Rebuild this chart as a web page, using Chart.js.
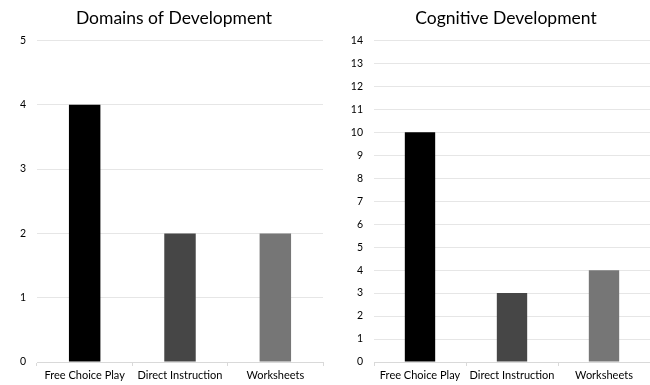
<!DOCTYPE html>
<html>
<head>
<meta charset="utf-8">
<script src="https://cdn.jsdelivr.net/npm/chart.js@4/dist/chart.umd.min.js"></script>
<style>
  html, body { margin: 0; padding: 0; background: #fff; overflow: hidden; }
  #wrap { position: relative; width: 650px; height: 385px; overflow: hidden; }
  canvas { position: absolute; top: 0; }
  #left { left: 0; }
  #right { left: 330px; }
</style>
</head>
<body>
<div id="wrap">
  <canvas id="left" width="348" height="385"></canvas>
  <canvas id="right" width="352" height="385"></canvas>
</div>
<script>
// Categories shared by both panels
const categories = ["Free Choice Play", "Direct Instruction", "Worksheets"];

// Panel 1: Domains of Development
const domainsTitle = "Domains of Development";
const domainsValues = [4, 2, 2];
const domainsMax = 5;

// Panel 2: Cognitive Development
const cognitiveTitle = "Cognitive Development";
const cognitiveValues = [10, 3, 4];
const cognitiveMax = 14;

const barColors = ["#000000", "#464646", "#767676"];

Chart.defaults.font.family = "Lato, 'Open Sans', sans-serif";
Chart.defaults.color = "#000";

// Nudges the title horizontally so it sits over the whole panel (axis labels included)
const titleNudge = {
  id: "titleNudge",
  afterLayout(chart, args, opts) {
    const t = chart.titleBlock;
    if (t && opts.dx) { t.left += opts.dx; t.right += opts.dx; }
  }
};

function makeChart(id, title, values, yMax, axisWidth, rightPad) {
  return new Chart(document.getElementById(id), {
    type: "bar",
    data: {
      labels: categories,
      datasets: [{
        data: values,
        backgroundColor: barColors,
        borderWidth: 0,
        categoryPercentage: 1,
        barPercentage: 0.33
      }]
    },
    plugins: [titleNudge],
    options: {
      responsive: false,
      animation: false,
      layout: { padding: { left: 0, right: rightPad, top: 0, bottom: 0 } },
      plugins: {
        legend: { display: false },
        tooltip: { enabled: false },
        titleNudge: { dx: -6 },
        title: {
          display: true,
          fullSize: false,
          text: title,
          color: "#000",
          font: { size: 17.5, weight: "normal" },
          padding: { top: 8, bottom: 11.5 }
        }
      },
      scales: {
        x: {
          offset: true,
          grid: {
            offset: true,
            drawOnChartArea: false,
            drawTicks: true,
            tickLength: 4,
            color: "#d9d9d9"
          },
          border: { color: "#d9d9d9" },
          ticks: { font: { size: 11 }, color: "#000", padding: 3, maxRotation: 0 },
          afterFit: (s) => { s.height = 23; }
        },
        y: {
          min: 0,
          max: yMax,
          grid: { color: "#e6e6e6", drawTicks: false },
          border: { display: false },
          ticks: { stepSize: 1, font: { size: 10.5 }, color: "#000", padding: 11 },
          afterFit: (s) => { s.width = axisWidth; }
        }
      }
    }
  });
}

makeChart("left", domainsTitle, domainsValues, domainsMax, 37, 25);
makeChart("right", cognitiveTitle, cognitiveValues, cognitiveMax, 44, 32);
</script>
</body>
</html>
